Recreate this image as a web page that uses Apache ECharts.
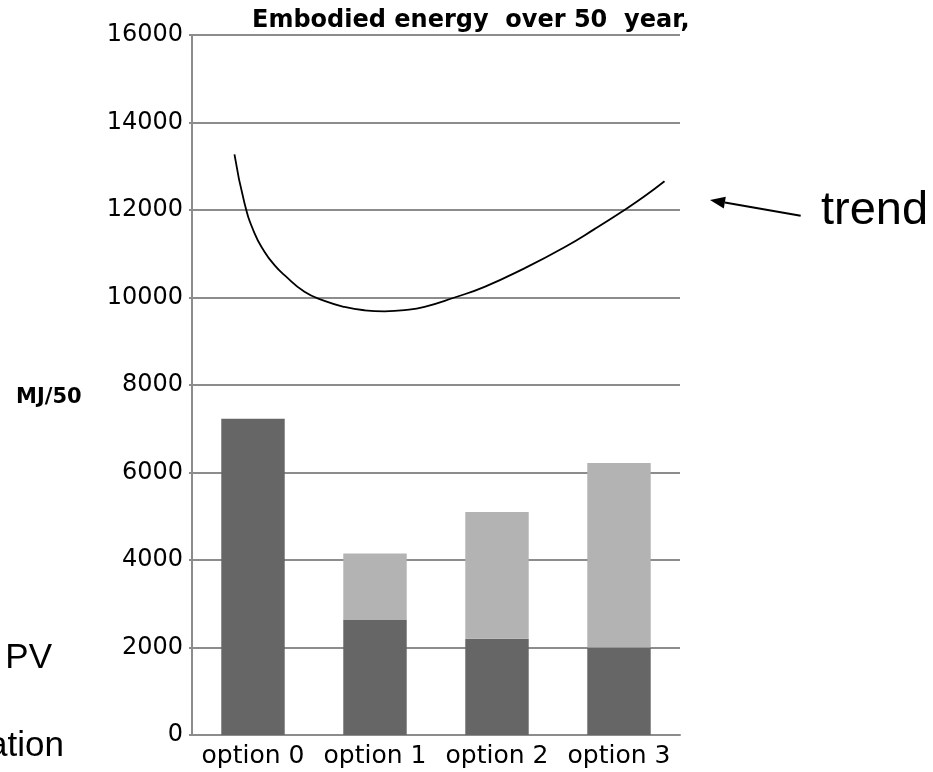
<!DOCTYPE html>
<html>
<head>
<meta charset="utf-8">
<script src="https://cdn.jsdelivr.net/npm/echarts@6/dist/echarts.min.js"></script>
<style>
html,body{margin:0;padding:0;background:#fff;}
#chart{width:933px;height:772px;}
</style>
</head>
<body>
<div id="chart"></div>
<script>
var categories = ['option 0', 'option 1', 'option 2', 'option 3'];
var insulationValues = [7230, 2640, 2200, 2000];
var pvValues = [0, 1510, 2900, 4220];
var trendX = [-0.152, -0.070, 0.012, 0.094, 0.176, 0.258, 0.422, 0.586, 0.750, 0.914, 1.078, 1.242, 1.406, 1.652, 1.898, 2.225, 2.553, 2.799, 3.045, 3.209, 3.373];
var trendY = [13271, 12161, 11471, 11048, 10740, 10510, 10129, 9922, 9784, 9708, 9685, 9710, 9785, 10000, 10244, 10667, 11149, 11563, 12000, 12313, 12657];
var titleText = 'Embodied energy  over 50  year, MJ';
var yAxisName = 'MJ/50';

var trendData = trendX.map(function (x, i) { return [x, trendY[i]]; });

var chart = echarts.init(document.getElementById('chart'));
var gridColor = '#8c8c8c';
chart.setOption({
  animation: false,
  backgroundColor: '#ffffff',
  grid: { left: 192, right: 253, top: 35, bottom: 37, containLabel: false },
  xAxis: [
    {
      type: 'category',
      data: categories,
      boundaryGap: true,
      axisLine: { show: true, lineStyle: { color: gridColor, width: 2 } },
      axisTick: { show: false },
      axisLabel: { color: '#000', fontFamily: 'DejaVu Sans', fontSize: 25, margin: 9, interval: 0 }
    },
    {
      type: 'value',
      min: -0.5,
      max: 3.5,
      show: false
    }
  ],
  yAxis: {
    type: 'value',
    min: 0,
    max: 16000,
    interval: 2000,
    axisLine: { show: true, onZero: false, lineStyle: { color: gridColor, width: 2 } },
    axisTick: { show: true, length: 3, lineStyle: { color: gridColor, width: 2 } },
    axisLabel: {
      color: '#000', fontFamily: 'DejaVu Sans', fontSize: 24, margin: 9,
      formatter: function (v) { return String(v); }
    },
    splitLine: { show: true, lineStyle: { color: gridColor, width: 2 } }
  },
  graphic: [
    {
      type: 'text', left: 252, top: 9,
      style: {
        text: titleText, fontFamily: 'DejaVu Sans', fontWeight: 'bold', fontSize: 24,
        fill: '#000', width: 452, overflow: 'truncate', ellipsis: ''
      }
    },
    {
      type: 'text', left: 16, top: 387,
      style: { text: yAxisName, fontFamily: 'DejaVu Sans', fontWeight: 'bold', fontSize: 21, fill: '#000' }
    },
    {
      type: 'text', x: 52, y: 641,
      style: { text: 'PV', fontFamily: 'Liberation Sans', fontSize: 35, fill: '#000', align: 'right' }
    },
    {
      type: 'text', x: 64, y: 729,
      style: { text: 'insulation', fontFamily: 'Liberation Sans', fontSize: 35, fill: '#000', align: 'right' }
    },
    {
      type: 'text', x: 821, y: 188,
      style: { text: 'trend', fontFamily: 'Liberation Sans', fontSize: 47, fill: '#000', align: 'left' }
    },
    {
      type: 'line',
      shape: { x1: 800.7, y1: 215.7, x2: 724.8, y2: 202.6 },
      style: { stroke: '#000', lineWidth: 2 }
    },
    {
      type: 'polygon',
      shape: { points: [[710, 200], [725.8, 196.7], [723.8, 208.5]] },
      style: { fill: '#000' }
    }
  ],
  series: [
    {
      name: 'insulation',
      type: 'bar',
      stack: 'total',
      barWidth: '52%',
      data: insulationValues,
      itemStyle: { color: '#666666' }
    },
    {
      name: 'PV',
      type: 'bar',
      stack: 'total',
      barWidth: '52%',
      data: pvValues,
      itemStyle: { color: '#b3b3b3' }
    },
    {
      name: 'trend',
      type: 'line',
      xAxisIndex: 1,
      data: trendData,
      smooth: 0.5,
      showSymbol: false,
      symbol: 'none',
      clip: false,
      lineStyle: { color: '#000', width: 1.8 }
    }
  ]
});
</script>
</body>
</html>
